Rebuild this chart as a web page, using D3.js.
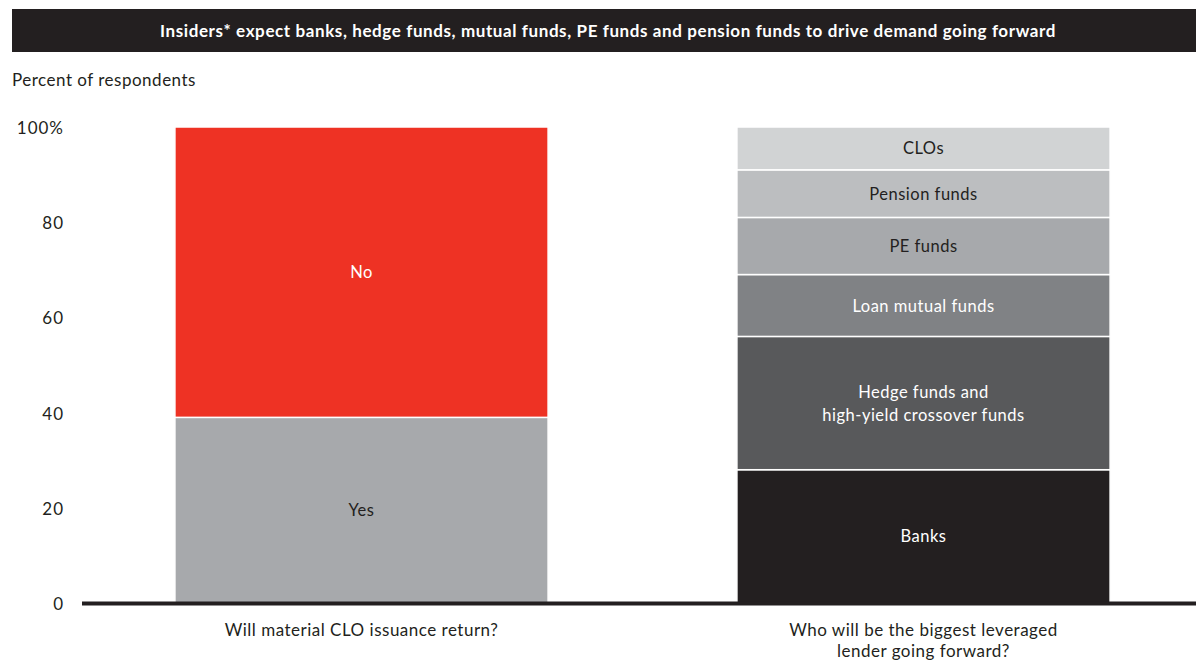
<!DOCTYPE html>
<html lang="en">
  <head>
    <meta charset="UTF-8" />
    <title>Leveraged lending survey</title>
    <script src="https://d3js.org/d3.v7.min.js"></script>
    <style>
      body {
        margin: 0;
        padding: 0;
        background: #fff;
        font-family: Lato, "Open Sans", sans-serif;
      }
      .title-text {
        fill: #fff;
        font-weight: bold;
        font-size: 17px;
        letter-spacing: 0.6px;
      }
      .tick-label {
        fill: #231f20;
        font-size: 17px;
        letter-spacing: 1px;
      }
      .y-title {
        fill: #231f20;
        font-size: 17px;
        letter-spacing: 0.5px;
      }
      .seg-label {
        font-size: 16.5px;
        letter-spacing: 0.5px;
        text-anchor: middle;
      }
      .cat-label {
        fill: #231f20;
        font-size: 17px;
        letter-spacing: 0.5px;
        text-anchor: middle;
      }
    </style>
  </head>
  <body>
    <div id="chart"></div>
    <script>
      const title =
        "Insiders* expect banks, hedge funds, mutual funds, PE funds and pension funds to drive demand going forward";
      const yTitle = "Percent of respondents";
      const categories = [
        ["Will material CLO issuance return?"],
        ["Who will be the biggest leveraged", "lender going forward?"],
      ];
      const yTicks = [0, 20, 40, 60, 80, 100];

      // first bar
      const clo = ["Yes", "No"];
      const cloValues = [39, 61];
      const cloColors = ["#a7a9ac", "#ee3224"];
      const cloText = ["#231f20", "#fff"];

      // second bar
      const lenders = [
        ["Banks"],
        ["Hedge funds and", "high-yield crossover funds"],
        ["Loan mutual funds"],
        ["PE funds"],
        ["Pension funds"],
        ["CLOs"],
      ];
      const lenderValues = [28, 28, 13, 12, 10, 9];
      const lenderColors = ["#231f20", "#58595b", "#808285", "#a7a9ac", "#bcbec0", "#d1d3d4"];
      const lenderText = ["#fff", "#fff", "#fff", "#231f20", "#231f20", "#231f20"];

      const width = 1196;
      const height = 662;

      const svg = d3
        .select("#chart")
        .append("svg")
        .attr("width", width)
        .attr("height", height);

      // title bar
      svg
        .append("rect")
        .attr("x", 12)
        .attr("y", 9)
        .attr("width", width - 12)
        .attr("height", 43)
        .attr("fill", "#231f20");

      svg
        .append("text")
        .attr("class", "title-text")
        .attr("x", 608)
        .attr("y", 37)
        .attr("text-anchor", "middle")
        .text(title);

      svg
        .append("text")
        .attr("class", "y-title")
        .attr("x", 12)
        .attr("y", 86)
        .text(yTitle);

      const y = d3.scaleLinear().domain([0, 100]).range([603, 127]);
      const x = d3
        .scaleBand()
        .domain([0, 1])
        .range([80.5, 1204.5])
        .paddingInner(0.336)
        .paddingOuter(0.168);

      // y tick labels
      svg
        .selectAll("text.ytick")
        .data(yTicks)
        .enter()
        .append("text")
        .attr("class", "tick-label ytick")
        .attr("x", 64)
        .attr("y", (d) => y(d) + 1)
        .attr("dy", "0.35em")
        .attr("text-anchor", "end")
        .text((d) => (d === 100 ? "100%" : d));

      function stackBar(idx, names, values, colors, textColors) {
        let acc = 0;
        const segs = values.map((v, i) => {
          const s = { name: names[i], y0: acc, y1: acc + v, color: colors[i], tc: textColors[i] };
          acc += v;
          return s;
        });
        const g = svg.append("g");
        g.selectAll("rect")
          .data(segs)
          .enter()
          .append("rect")
          .attr("x", x(idx))
          .attr("width", x.bandwidth())
          .attr("y", (d) => y(d.y1))
          .attr("height", (d) => y(d.y0) - y(d.y1))
          .attr("fill", (d) => d.color)
          .attr("stroke", "#fff")
          .attr("stroke-width", 1.5);

        const cx = x(idx) + x.bandwidth() / 2;
        const labels = g
          .selectAll("text")
          .data(segs)
          .enter()
          .append("text")
          .attr("class", "seg-label")
          .attr("fill", (d) => d.tc)
          .attr("x", cx)
          .attr("y", (d) => {
            const lines = Array.isArray(d.name) ? d.name.length : 1;
            return (y(d.y0) + y(d.y1)) / 2 + 6 - ((lines - 1) * 23) / 2;
          })
          .attr("dy", "0.35em");
        labels
          .selectAll("tspan")
          .data((d) => (Array.isArray(d.name) ? d.name : [d.name]))
          .enter()
          .append("tspan")
          .attr("x", cx)
          .attr("dy", (d, i) => (i === 0 ? 0 : 23))
          .text((d) => d);
      }

      stackBar(0, clo, cloValues, cloColors, cloText);
      stackBar(1, lenders, lenderValues, lenderColors, lenderText);

      // baseline
      svg
        .append("line")
        .attr("x1", 82)
        .attr("x2", width)
        .attr("y1", y(0) + 0.5)
        .attr("y2", y(0) + 0.5)
        .attr("stroke", "#231f20")
        .attr("stroke-width", 4);

      // category labels
      const cats = svg
        .selectAll("text.cat")
        .data(categories)
        .enter()
        .append("text")
        .attr("class", "cat-label cat")
        .attr("y", 636);
      cats
        .selectAll("tspan")
        .data((d, i) => d.map((t) => ({ t, i })))
        .enter()
        .append("tspan")
        .attr("x", (d) => x(d.i) + x.bandwidth() / 2)
        .attr("dy", (d, j) => (j === 0 ? 0 : 21))
        .text((d) => d.t);
    </script>
  </body>
</html>
